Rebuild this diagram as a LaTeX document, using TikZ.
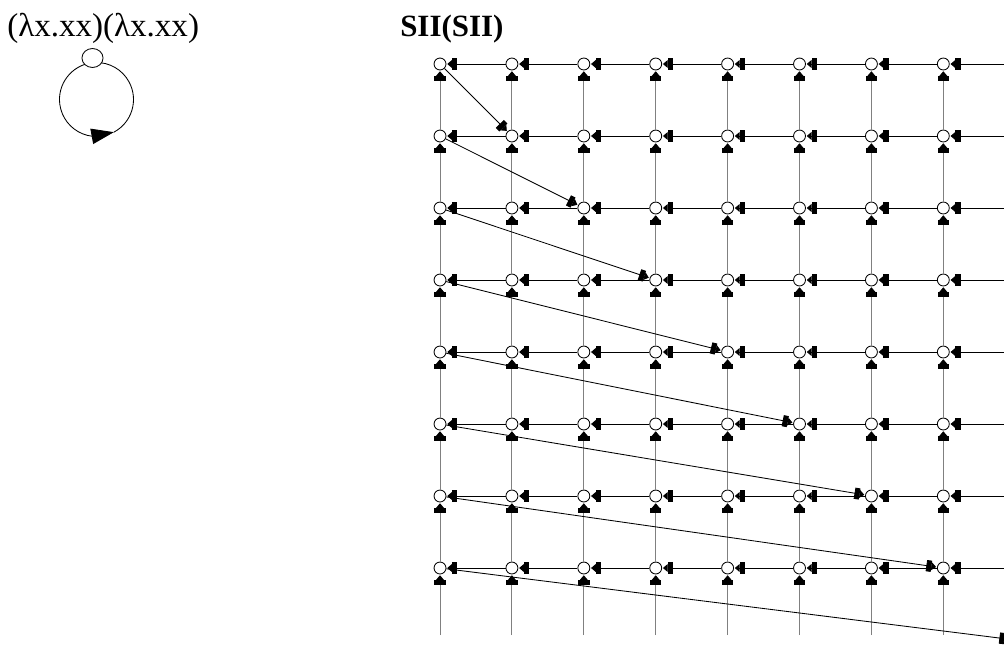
\documentclass[tikz,border=0pt]{standalone}
\usepackage{fontspec}
\setmainfont{Liberation Serif}
\usetikzlibrary{arrows.meta,bending,shapes.geometric}

\tikzset{
  vertice/.style={circle, draw, fill=white, inner sep=0pt, minimum size=8.5pt, line width=0.6pt},
  tachuela/.style={-{Rectangle[black,length=3.6pt,width=8pt,sep=0pt]Triangle[black,length=3.4pt,width=5.6pt]}, shorten >=0.6pt},
  horiz/.style={tachuela, line width=0.6pt, black},
  vert/.style={tachuela, line width=0.6pt, gray},
  diag/.style={tachuela, line width=0.6pt, black}
}

\begin{document}
\begin{tikzpicture}[x=0.025cm, y=-0.025cm]
        \useasboundingbox (0,0) rectangle (1004,645);
        \clip (0,0) rectangle (1004,645);
        % Titulos
        \node[anchor=base west, inner sep=0pt, font=\fontsize{23.5}{28}\selectfont] (t1) at (7,36) {(λx.xx)(λx.xx)};
        \node[anchor=base west, inner sep=0pt, font=\fontsize{22}{26}\selectfont\bfseries] (t2) at (400,36) {SII(SII)};
        % Bucle de la izquierda
        \draw[line width=0.6pt, -{Triangle[length=16pt,width=11pt]}] (96.5,99.5) ++(262:37) arc[start angle=262, end angle=62, radius=37];
        \draw[line width=0.6pt] (96.5,99.5) ++(62:37) arc[start angle=62, end angle=-92, radius=37];
        \node[ellipse, draw, fill=white, line width=0.6pt, minimum width=15pt, minimum height=13.5pt, inner sep=0pt] (lam) at (92.5,58) {};
        % Nodos de la rejilla
        \foreach \i in {0,...,7}
          \foreach \j in {0,...,7}
            \node[vertice] (n-\i-\j) at (440+71.9*\i, 64+72*\j) {};
        \foreach \j in {0,...,7}
          \coordinate (e-\j) at (1012, 64+72*\j);
        \foreach \i in {0,...,7}
          \coordinate (b-\i) at (440+71.9*\i, 635);
        \coordinate (n-8-8) at (440+71.9*8, 64+72*8);
        % Aristas horizontales
        \foreach \j in {0,...,7} {
          \foreach \i [evaluate=\i as \k using int(\i+1)] in {0,...,6}
            \draw[horiz] (n-\k-\j) -- (n-\i-\j);
          \draw[horiz] (e-\j) -- (n-7-\j);
        }
        % Aristas verticales
        \foreach \i in {0,...,7} {
          \foreach \j [evaluate=\j as \k using int(\j+1)] in {0,...,6}
            \draw[vert] (n-\i-\k) -- (n-\i-\j);
          \draw[vert] (b-\i) -- (n-\i-7);
        }
        % Diagonales
        \foreach \j [evaluate=\j as \k using int(\j+1)] in {0,...,6}
          \draw[diag] (n-0-\j) -- (n-\k-\k);
        \draw[diag, shorten >=4.3pt] (n-0-7) -- (n-8-8);
    \end{tikzpicture}
\end{document}
